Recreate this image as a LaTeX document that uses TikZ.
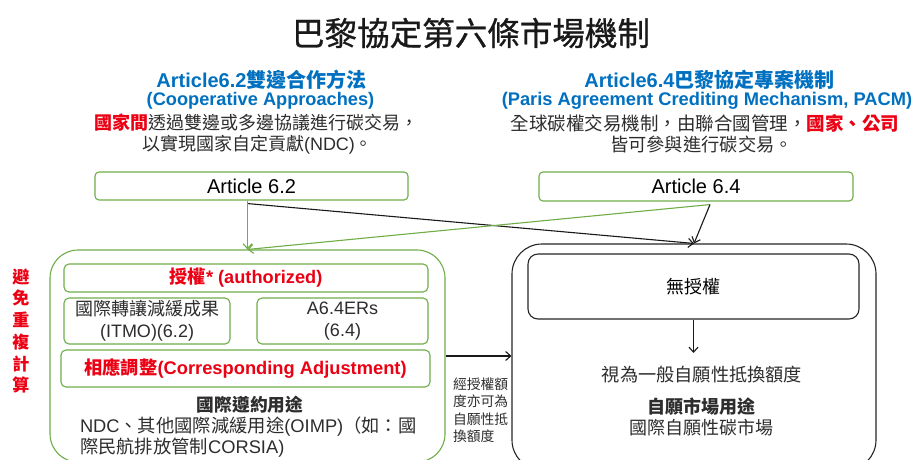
\documentclass[tikz,border=0pt]{standalone}
\usepackage{fontspec}
\usepackage{graphicx}
\setmainfont{Liberation Sans}
\newfontfamily\tc{Noto Sans CJK TC}
\newfontfamily\tctitle[FakeBold=0.8]{Noto Sans CJK TC}
\usetikzlibrary{arrows.meta,calc}
\definecolor{ggreen}{RGB}{112,173,71}
\definecolor{hblue}{RGB}{0,112,192}
\definecolor{hred}{RGB}{235,0,20}
\definecolor{tgray}{RGB}{45,45,45}
\newcommand\fsz[1]{\fontsize{#1}{#1}\selectfont}
\tikzset{
  gbox/.style={draw=ggreen, line width=1.1pt, rounded corners=5pt, inner sep=0pt, align=center},
  bbox/.style={draw=black!85, line width=1.1pt, inner sep=0pt, align=center},
  txt/.style={inner sep=0pt, outer sep=0pt, text=tgray},
  harrow/.style={line width=1.1pt, -{Straight Barb[length=5pt,width=9pt]}},
}
\begin{document}
\begin{tikzpicture}[x=1pt,y=-1pt]
\useasboundingbox[fill=white] (0,0) rectangle (917,459);

% title
\node[txt, text=black!90] (title) at (471,33) {\resizebox{358pt}{!}{\tctitle\fsz{39}巴黎協定第六條市場機制}};

% left header
\node[txt, text=hblue] (lh1) at (261.5,80) {\fsz{20}\bfseries Article6.2{\tc 雙邊合作方法}};
\node[txt, text=hblue] (lh2) at (260.5,101) {\fsz{18.2}\bfseries (Cooperative Approaches)};
\node[txt] (lh3) at (256.5,123) {\fsz{18}{\tc\bfseries\color{hred}國家間}{\tc 透過雙邊或多邊協議進行碳交易，}};
\node[txt] (lh4) at (257.5,145) {\fsz{18}{\tc 以實現國家自定貢獻}(NDC){\tc 。}};

% right header
\node[txt, text=hblue] (rh1) at (709.5,80) {\fsz{20}\bfseries Article6.4{\tc 巴黎協定專案機制}};
\node[txt, text=hblue] (rh2) at (707,101) {\fsz{18.3}\bfseries (Paris Agreement Crediting Mechanism, PACM)};
\node[txt] (rh3) at (705,123) {\fsz{18.5}{\tc 全球碳權交易機制，由聯合國管理，{\bfseries\color{hred}國家、公司}}};
\node[txt] (rh4) at (701.5,145) {\fsz{18.3}{\tc 皆可參與進行碳交易。}};

% article boxes
\node[gbox, minimum width=313pt, minimum height=28pt, rounded corners=4pt] (a62) at (251.5,186)
  {\fsz{20}Article 6.2};
\node[gbox, minimum width=314pt, minimum height=29pt, rounded corners=4pt] (a64) at (696,186.5)
  {\fsz{20}Article 6.4};

% big boxes
\node[gbox, minimum width=395pt, minimum height=212pt, rounded corners=28pt] (leftbig) at (247.5,356) {};
\node[bbox, minimum width=364pt, minimum height=226pt, rounded corners=30pt] (rightbig) at (694,357) {};

% left inner boxes
\node[gbox, minimum width=364pt, minimum height=28pt] (auth) at (246,278)
  {\fsz{18.2}\bfseries\color{hred}{\tc 授權}* (authorized)};
\node[gbox, minimum width=166pt, minimum height=46pt, text=tgray, font=\fontsize{18}{22}\selectfont] (itmo) at (147,321)
  {{\tc 國際轉讓減緩成果}\\(ITMO)(6.2)};
\node[gbox, minimum width=171pt, minimum height=46pt, text=tgray, font=\fontsize{18}{22}\selectfont] (er) at (342.5,321)
  {A6.4ERs\\(6.4)};
\node[gbox, minimum width=369pt, minimum height=37pt] (ca) at (245.5,368.5)
  {\fsz{18.3}\bfseries\color{hred}{\tc 相應調整}(Corresponding Adjustment)};
\node[txt] (comp) at (250,405) {\fsz{17.7}\tc\bfseries 國際遵約用途};
\node[txt, anchor=west] (use1) at (80,427) {\fsz{18.3}NDC{\tc 、其他國際減緩用途}(OIMP){\tc （如：國}};
\node[txt, anchor=west] (use2) at (80,448) {\fsz{18.3}{\tc 際民航排放管制}CORSIA)};

% side label
\node[txt, text=hred, align=center, font=\fontsize{17}{21.7}\selectfont\tc\bfseries] (side) at (21,331)
  {避\\免\\重\\複\\計\\算};

% right inner
\node[bbox, minimum width=331pt, minimum height=65pt, rounded corners=10pt] (nosq) at (693.5,286.5)
  {\fsz{18}\tc 無授權};
\coordinate (v1) at (693.5,353);
\node[txt] (vol) at (702,375) {\fsz{18.2}\tc 視為一般自願性抵換額度};
\node[txt] (volu) at (701,407) {\fsz{18}\tc\bfseries 自願市場用途};
\node[txt] (volm) at (701,428) {\fsz{18}\tc 國際自願性碳市場};

% small note
\node[txt, anchor=west, align=left, font=\fontsize{13.8}{17.5}\selectfont\tc] (note) at (453,410.5)
  {經授權額\\度亦可為\\自願性抵\\換額度};

% connectors
\draw[harrow, draw=black!90] ($(a62.south -| leftbig.north)+(0,3)$) -- (rightbig.north);
\draw[harrow, draw=ggreen] ($(a64.south)+(14,3)$) -- (leftbig.north);
\draw[harrow, draw=ggreen] (a62.south -| leftbig.north) -- (leftbig.north);
\draw[harrow, draw=black!90] ($(a64.south)+(14,3)$) -- (rightbig.north);
\draw[harrow, draw=black!90] (leftbig.east) -- (leftbig.east -| rightbig.west);
\draw[harrow, draw=black!90] (nosq.south) -- (v1);
\end{tikzpicture}
\end{document}
